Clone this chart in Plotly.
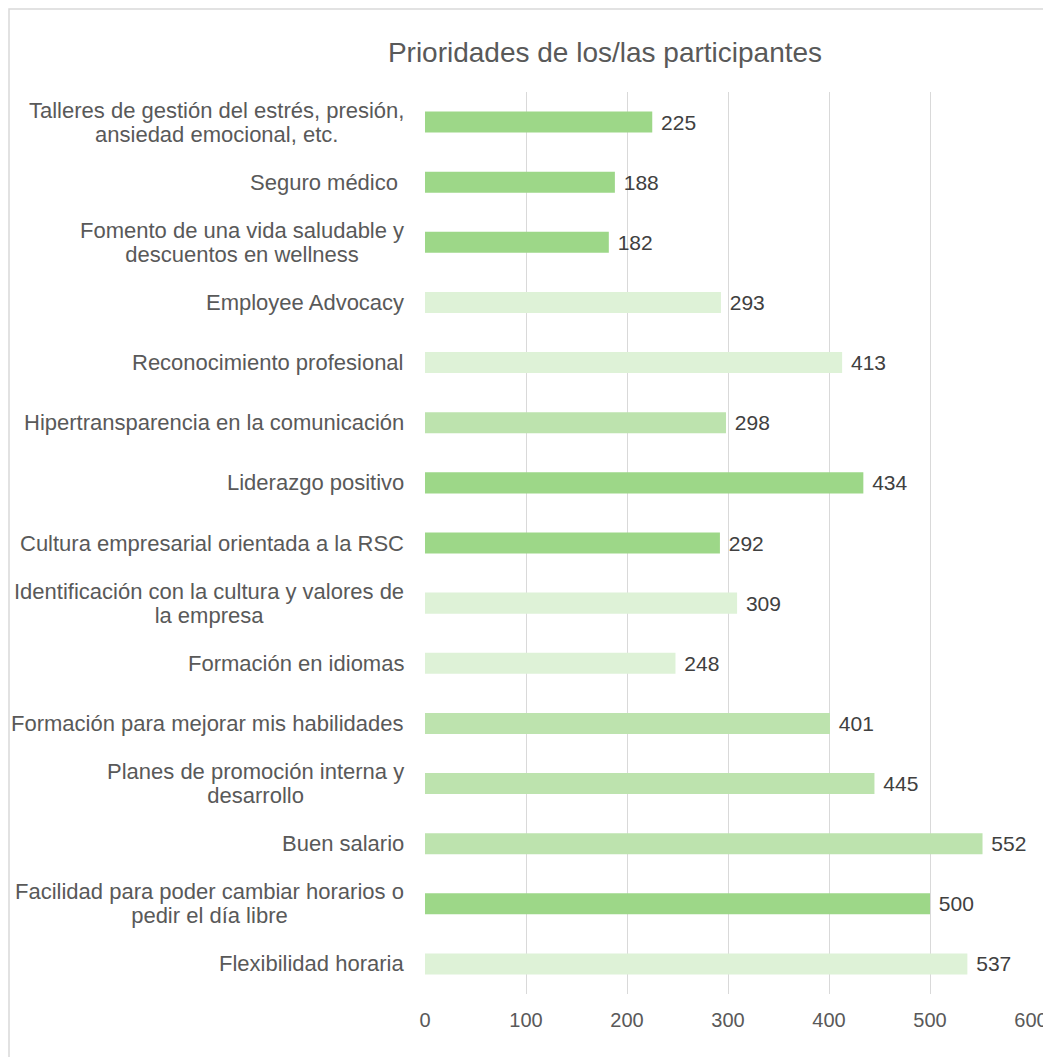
import plotly.graph_objects as go

# Categories listed top to bottom, as they appear on the chart
categories = [
    "Talleres de gestión del estrés, presión,<br>ansiedad emocional, etc.",
    "Seguro médico ",
    "Fomento de una vida saludable y<br>descuentos en wellness",
    "Employee Advocacy",
    "Reconocimiento profesional",
    "Hipertransparencia en la comunicación",
    "Liderazgo positivo",
    "Cultura empresarial orientada a la RSC",
    "Identificación con la cultura y valores de<br>la empresa",
    "Formación en idiomas",
    "Formación para mejorar mis habilidades",
    "Planes de promoción interna y<br>desarrollo",
    "Buen salario",
    "Facilidad para poder cambiar horarios o<br>pedir el día libre",
    "Flexibilidad horaria",
]
values = [225, 188, 182, 293, 413, 298, 434, 292, 309, 248, 401, 445, 552, 500, 537]
# Shade group for each bar: 0 = dark, 1 = medium, 2 = light
shade = [0, 0, 0, 2, 2, 1, 0, 0, 2, 2, 1, 1, 1, 0, 2]
x_ticks = [0, 100, 200, 300, 400, 500, 600]

palette = ["#9dd788", "#bde3ae", "#def2d7"]
FONT = "Liberation Sans, Arial, Helvetica, sans-serif"
TEXT = "#595959"
LABEL_PX = 22      # glyph size of category labels
LINE_BASE = 18.5   # base size that sets the spacing of wrapped lines (1.3em)

W, H = 1043, 1057
L, R, T, B = 425, 12, 92, 63

ids = list(range(len(categories)))

fig = go.Figure()
fig.add_trace(go.Bar(
    x=values,
    y=ids,
    orientation="h",
    width=0.35,
    marker=dict(color=[palette[s] for s in shade], line=dict(width=0)),
    text=[" " + str(v) for v in values],
    textposition="outside",
    constraintext="none",
    textfont=dict(family=FONT, size=21, color="#404040"),
    cliponaxis=False,
    hoverinfo="skip",
))

# Category labels: lines centered on each other, block right-aligned by the axis
for i, c in enumerate(categories):
    styled = "<br>".join(
        f'<span style="font-size:{LABEL_PX}px">{part}</span>' for part in c.split("<br>")
    )
    fig.add_annotation(
        x=0, xref="paper", y=i, yref="y",
        text=styled, showarrow=False,
        xanchor="right", yanchor="middle", align="center",
        xshift=-19,
        font=dict(family=FONT, size=LINE_BASE, color=TEXT),
    )

pw = W - L - R
ph = H - T - B
# Outer chart border
fig.add_shape(
    type="rect", xref="paper", yref="paper",
    x0=(9 - L) / pw, x1=(W + 20 - L) / pw,
    y0=-(B + 20) / ph, y1=(H - B - 9) / ph,
    line=dict(color="#d9d9d9", width=1.5),
    fillcolor="rgba(0,0,0,0)", layer="below",
)

fig.update_layout(
    width=W, height=H,
    margin=dict(l=L, r=R, t=T, b=B, autoexpand=False),
    paper_bgcolor="white", plot_bgcolor="white",
    showlegend=False,
    title=dict(
        text="Prioridades de los/las participantes",
        x=605 / W, xref="container", xanchor="center",
        y=1 - 52 / H, yref="container", yanchor="middle",
        font=dict(family=FONT, size=28, color=TEXT),
    ),
    xaxis=dict(
        range=[0, 600], tickvals=x_ticks,
        showgrid=True, gridcolor="#d9d9d9", gridwidth=1,
        zeroline=False, showline=False, ticks="",
        ticklabelstandoff=12,
        ticklabeloverflow="allow",
        automargin=False,
        tickfont=dict(family=FONT, size=20, color=TEXT),
    ),
    yaxis=dict(
        range=[len(categories) - 0.5, -0.5],
        showticklabels=False, showgrid=False, zeroline=False,
        showline=False, ticks="", automargin=False,
    ),
)

fig.write_html("out.html")
